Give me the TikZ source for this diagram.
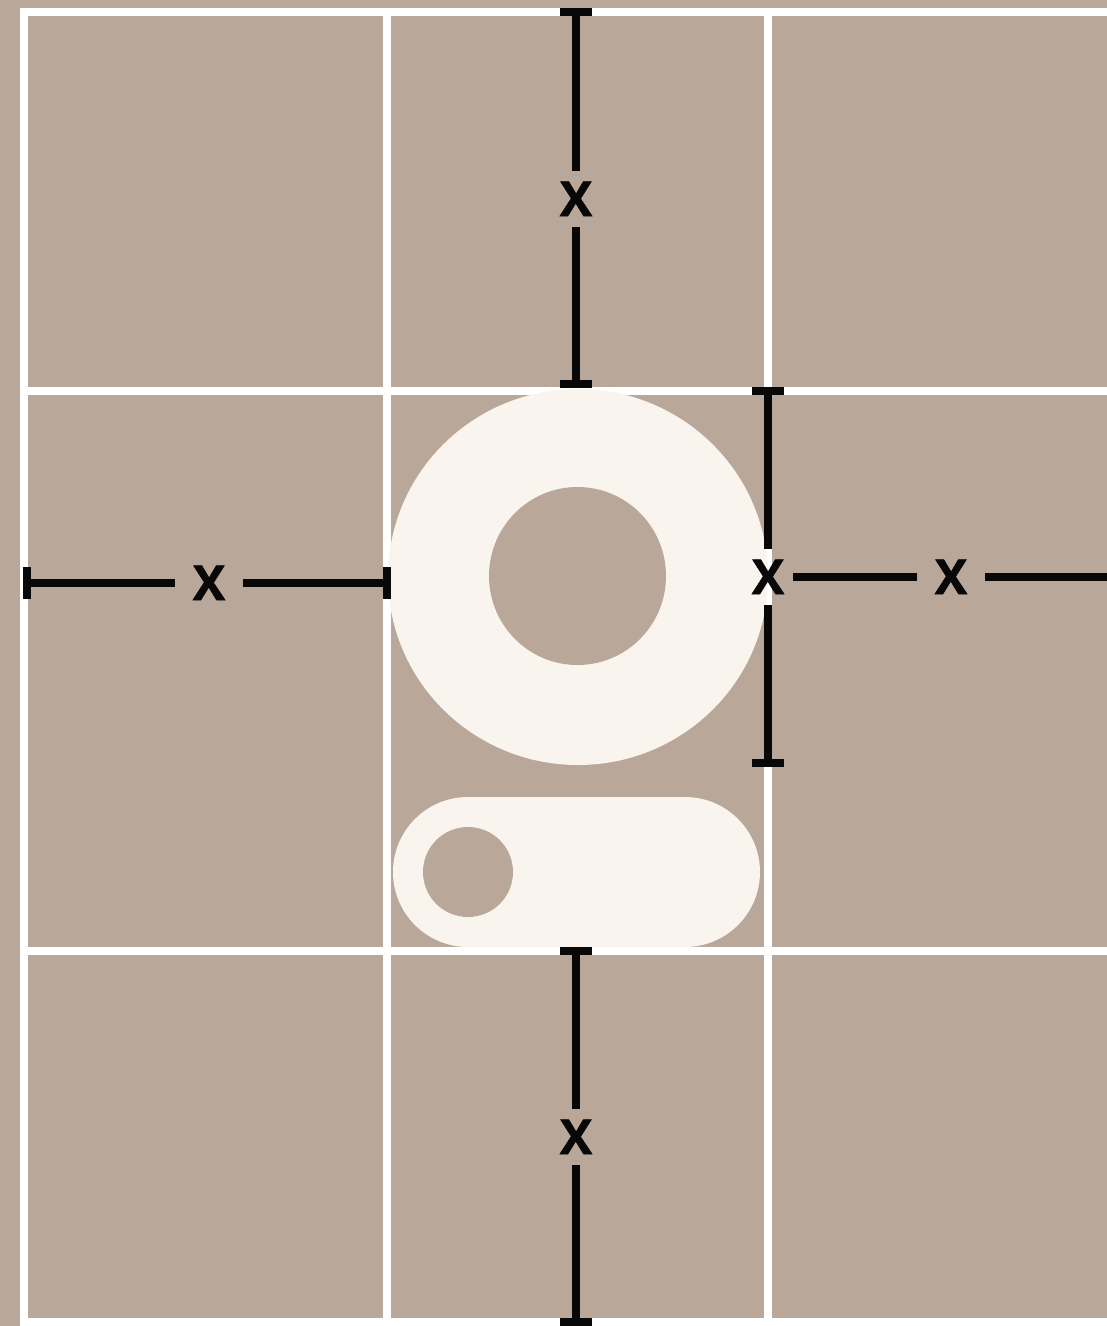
\documentclass[tikz,border=0pt]{standalone}
\usepackage{fontspec}
\usetikzlibrary{arrows.meta,positioning}
\newfontfamily\dimfont{Open Sans}[BoldFeatures={FakeBold=1.6}]
\definecolor{bgTan}{HTML}{B9A899}
\definecolor{knobCream}{HTML}{F9F4EE}
\definecolor{dimInk}{HTML}{080808}
\tikzset{
 board/.style={line cap=butt,line join=miter},
 gridline/.style={draw=white,line width=8pt},
 knob/.style={fill=knobCream,draw=none},
 hole/.style={fill=bgTan,draw=none},
 dimline/.style={draw=dimInk,line width=8pt},
 dimend/.style={dimline,-{Bar[width=32pt]}},
 dimlabel/.style={font=\fontsize{48}{48}\dimfont\bfseries,text=dimInk,
   inner xsep=18pt,inner ysep=11pt,text height=34pt,text depth=0pt}
}
\begin{document}
\begin{tikzpicture}[board,x=1pt,y=-1pt]
 \useasboundingbox[fill=bgTan] (0,0) rectangle (1107,1326);
 % grid
 \foreach \gx/\gy in {24/8,387/12,768/12}
   \draw[gridline] (\gx,\gy) -- (\gx,1330);
 \foreach \gy in {12,391,951,1322}
   \draw[gridline] (20,\gy) -- (1110,\gy);
 % ring and toggle
 \fill[knob] (578,577) ellipse [x radius=190,y radius=188];
 \fill[hole] (577.5,576) ellipse [x radius=88.5,y radius=89];
 \fill[knob,rounded corners=75pt] (393,797) rectangle (760,947);
 \fill[hole] (468,872) circle [radius=45];
 % spacing marks
 \coordinate (topA) at (576,8); \coordinate (topB) at (576,388);
 \node[dimlabel] (xTop) at (576,199) {X};
 \draw[dimend] (xTop) -- (topA); \draw[dimend] (xTop) -- (topB);
 \coordinate (leftA) at (23,583); \coordinate (leftB) at (391,583);
 \node[dimlabel] (xLeft) at (209,583) {X};
 \draw[dimend] (xLeft) -- (leftA); \draw[dimend] (xLeft) -- (leftB);
 \coordinate (ringA) at (768,387); \coordinate (ringB) at (768,767);
 \node[dimlabel] (xRing) at (768,577) {X};
 \draw[dimend] (xRing) -- (ringA); \draw[dimend] (xRing) -- (ringB);
 \coordinate (rightB) at (1112,577);
 \node[dimlabel] (xRight) at (951,577) {X};
 \draw[dimline,shorten <=-9pt] (xRing) -- (xRight);
 \draw[dimline] (xRight) -- (rightB);
 \coordinate (botA) at (576,947); \coordinate (botB) at (576,1326);
 \node[dimlabel] (xBot) at (576,1137) {X};
 \draw[dimend] (xBot) -- (botA); \draw[dimend] (xBot) -- (botB);
\end{tikzpicture}
\end{document}
